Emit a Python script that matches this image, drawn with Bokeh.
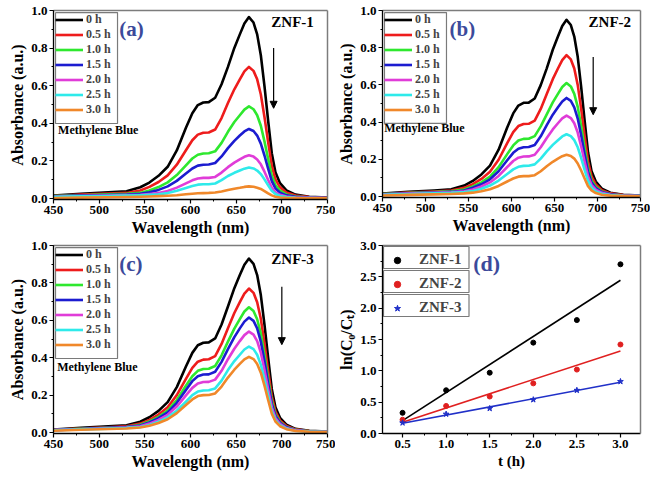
import numpy as np
from bokeh.plotting import figure
from bokeh.layouts import row, column
from bokeh.models import (Legend, LegendItem, Label, Arrow, NormalHead, LinearAxis,
                          SingleIntervalTicker, PrintfTickFormatter, Range1d)
from bokeh.embed import file_html
from bokeh.resources import INLINE

# ---------------- data ----------------
wavelength = [450, 480, 510, 530, 545, 555, 565, 575, 585, 595, 602, 608, 614,
              620, 627, 634, 641, 648, 654, 659, 664, 669, 673, 677, 681, 685,
              689, 693, 698, 705, 715, 730, 750]
time_labels = ["0 h", "0.5 h", "1.0 h", "1.5 h", "2.0 h", "2.5 h", "3.0 h"]
curve_colors = ["#000000", "#ee1c1c", "#2ee82e", "#1c1cd0", "#e03cd8", "#2eeaea", "#f0882a"]

znf1_spectra = [
    [0.016, 0.025, 0.033, 0.039, 0.060, 0.085, 0.121, 0.169, 0.256, 0.376, 0.454, 0.497, 0.511, 0.513, 0.536, 0.608, 0.700, 0.801, 0.873, 0.931, 0.965, 0.936, 0.873, 0.762, 0.598, 0.415, 0.241, 0.140, 0.082, 0.043, 0.021, 0.010, 0.005],
    [0.014, 0.021, 0.026, 0.030, 0.043, 0.062, 0.088, 0.123, 0.180, 0.257, 0.310, 0.340, 0.350, 0.351, 0.367, 0.428, 0.508, 0.581, 0.634, 0.676, 0.700, 0.679, 0.634, 0.553, 0.434, 0.301, 0.175, 0.102, 0.060, 0.032, 0.016, 0.008, 0.004],
    [0.013, 0.018, 0.022, 0.025, 0.030, 0.043, 0.061, 0.086, 0.125, 0.177, 0.213, 0.233, 0.240, 0.241, 0.251, 0.296, 0.355, 0.407, 0.443, 0.473, 0.490, 0.475, 0.443, 0.387, 0.304, 0.211, 0.123, 0.071, 0.042, 0.022, 0.011, 0.006, 0.003],
    [0.012, 0.016, 0.019, 0.021, 0.025, 0.033, 0.046, 0.065, 0.094, 0.133, 0.160, 0.175, 0.180, 0.181, 0.189, 0.224, 0.268, 0.307, 0.335, 0.357, 0.370, 0.359, 0.335, 0.292, 0.229, 0.159, 0.093, 0.054, 0.031, 0.017, 0.009, 0.005, 0.003],
    [0.010, 0.013, 0.016, 0.018, 0.020, 0.024, 0.029, 0.040, 0.058, 0.081, 0.097, 0.107, 0.110, 0.110, 0.115, 0.138, 0.167, 0.191, 0.208, 0.222, 0.230, 0.223, 0.208, 0.182, 0.143, 0.099, 0.058, 0.033, 0.020, 0.011, 0.006, 0.004, 0.003],
    [0.009, 0.012, 0.014, 0.016, 0.018, 0.020, 0.023, 0.029, 0.041, 0.056, 0.067, 0.074, 0.076, 0.076, 0.080, 0.098, 0.120, 0.137, 0.149, 0.159, 0.165, 0.160, 0.149, 0.130, 0.102, 0.071, 0.041, 0.024, 0.014, 0.008, 0.004, 0.003, 0.002],
    [0.003, 0.005, 0.007, 0.008, 0.010, 0.011, 0.013, 0.015, 0.018, 0.023, 0.026, 0.028, 0.029, 0.030, 0.032, 0.038, 0.045, 0.052, 0.057, 0.062, 0.065, 0.063, 0.058, 0.051, 0.040, 0.028, 0.017, 0.010, 0.006, 0.004, 0.003, 0.002, 0.002],
]
znf2_spectra = [
    [0.016, 0.025, 0.033, 0.039, 0.059, 0.084, 0.119, 0.166, 0.252, 0.371, 0.447, 0.489, 0.504, 0.505, 0.527, 0.599, 0.689, 0.789, 0.860, 0.917, 0.950, 0.922, 0.860, 0.751, 0.589, 0.409, 0.238, 0.138, 0.081, 0.043, 0.021, 0.010, 0.005],
    [0.014, 0.021, 0.027, 0.032, 0.047, 0.067, 0.095, 0.133, 0.198, 0.287, 0.346, 0.379, 0.390, 0.391, 0.408, 0.471, 0.551, 0.631, 0.688, 0.733, 0.760, 0.737, 0.688, 0.600, 0.471, 0.327, 0.190, 0.110, 0.065, 0.034, 0.017, 0.008, 0.004],
    [0.013, 0.019, 0.024, 0.028, 0.038, 0.054, 0.076, 0.107, 0.158, 0.228, 0.275, 0.301, 0.310, 0.311, 0.325, 0.377, 0.442, 0.506, 0.552, 0.589, 0.610, 0.592, 0.552, 0.482, 0.378, 0.262, 0.153, 0.088, 0.052, 0.027, 0.013, 0.006, 0.004],
    [0.012, 0.017, 0.022, 0.025, 0.033, 0.047, 0.066, 0.093, 0.136, 0.195, 0.235, 0.257, 0.265, 0.266, 0.277, 0.324, 0.384, 0.440, 0.480, 0.511, 0.530, 0.514, 0.480, 0.419, 0.329, 0.228, 0.133, 0.077, 0.045, 0.024, 0.012, 0.006, 0.004],
    [0.011, 0.016, 0.020, 0.023, 0.028, 0.038, 0.054, 0.076, 0.111, 0.159, 0.191, 0.209, 0.215, 0.216, 0.225, 0.265, 0.315, 0.361, 0.394, 0.420, 0.435, 0.422, 0.394, 0.344, 0.270, 0.187, 0.109, 0.063, 0.037, 0.020, 0.010, 0.005, 0.003],
    [0.010, 0.014, 0.017, 0.020, 0.024, 0.030, 0.042, 0.059, 0.086, 0.121, 0.146, 0.160, 0.165, 0.166, 0.173, 0.204, 0.243, 0.278, 0.303, 0.323, 0.335, 0.325, 0.303, 0.265, 0.208, 0.144, 0.084, 0.049, 0.028, 0.015, 0.008, 0.004, 0.003],
    [0.006, 0.009, 0.012, 0.014, 0.017, 0.021, 0.029, 0.039, 0.057, 0.081, 0.097, 0.107, 0.110, 0.110, 0.115, 0.136, 0.163, 0.187, 0.204, 0.217, 0.225, 0.218, 0.204, 0.178, 0.140, 0.097, 0.056, 0.033, 0.019, 0.010, 0.005, 0.003, 0.002],
]
znf3_spectra = [
    [0.016, 0.025, 0.033, 0.039, 0.058, 0.082, 0.116, 0.163, 0.243, 0.353, 0.426, 0.467, 0.480, 0.482, 0.503, 0.578, 0.674, 0.772, 0.842, 0.897, 0.930, 0.902, 0.842, 0.735, 0.577, 0.400, 0.233, 0.135, 0.079, 0.042, 0.020, 0.009, 0.005],
    [0.015, 0.022, 0.028, 0.033, 0.048, 0.068, 0.096, 0.135, 0.200, 0.287, 0.346, 0.379, 0.390, 0.392, 0.409, 0.474, 0.558, 0.639, 0.697, 0.743, 0.770, 0.747, 0.697, 0.608, 0.477, 0.331, 0.193, 0.112, 0.065, 0.035, 0.017, 0.008, 0.004],
    [0.014, 0.020, 0.026, 0.030, 0.042, 0.059, 0.084, 0.117, 0.174, 0.250, 0.301, 0.330, 0.340, 0.341, 0.356, 0.413, 0.486, 0.556, 0.606, 0.647, 0.670, 0.650, 0.606, 0.529, 0.415, 0.288, 0.168, 0.097, 0.057, 0.030, 0.015, 0.007, 0.004],
    [0.013, 0.019, 0.025, 0.029, 0.038, 0.054, 0.077, 0.108, 0.159, 0.228, 0.275, 0.301, 0.310, 0.311, 0.325, 0.378, 0.446, 0.510, 0.557, 0.593, 0.615, 0.597, 0.557, 0.486, 0.381, 0.264, 0.154, 0.089, 0.052, 0.028, 0.014, 0.006, 0.004],
    [0.013, 0.018, 0.023, 0.027, 0.034, 0.048, 0.068, 0.095, 0.139, 0.199, 0.239, 0.262, 0.270, 0.271, 0.283, 0.330, 0.392, 0.448, 0.489, 0.521, 0.540, 0.524, 0.489, 0.427, 0.335, 0.232, 0.135, 0.078, 0.046, 0.024, 0.012, 0.005, 0.004],
    [0.012, 0.017, 0.021, 0.025, 0.030, 0.041, 0.058, 0.081, 0.117, 0.165, 0.200, 0.219, 0.225, 0.226, 0.236, 0.278, 0.334, 0.382, 0.416, 0.444, 0.460, 0.446, 0.416, 0.363, 0.285, 0.198, 0.115, 0.067, 0.039, 0.021, 0.010, 0.005, 0.003],
    [0.010, 0.015, 0.019, 0.022, 0.027, 0.036, 0.051, 0.071, 0.104, 0.147, 0.177, 0.195, 0.200, 0.201, 0.209, 0.246, 0.294, 0.336, 0.367, 0.391, 0.405, 0.393, 0.367, 0.320, 0.251, 0.174, 0.101, 0.059, 0.034, 0.018, 0.009, 0.004, 0.003],
]

time_h = [0.5, 1.0, 1.5, 2.0, 2.5, 3.0]
ln_znf1 = [0.33, 0.69, 0.97, 1.45, 1.81, 2.70]
ln_znf2 = [0.22, 0.44, 0.59, 0.80, 1.02, 1.42]
ln_znf3 = [0.17, 0.31, 0.40, 0.54, 0.69, 0.83]
kinetic_names = ["ZNF-1", "ZNF-2", "ZNF-3"]
kinetic_colors = ["#000000", "#e02020", "#2030c8"]

FONT = "'Liberation Serif', serif"
TAG_COLOR = "#3b4a9b"
BOX_COLOR = "#7a7a7a"


def style(p, xlabel, ylabel, xint, yint, xfmt, yfmt):
    p.grid.visible = False
    p.outline_line_color = None
    p.background_fill_color = "white"
    p.border_fill_color = "white"
    p.xaxis.ticker = SingleIntervalTicker(interval=xint, num_minor_ticks=2)
    p.yaxis.ticker = SingleIntervalTicker(interval=yint, num_minor_ticks=2)
    p.xaxis.formatter = PrintfTickFormatter(format=xfmt)
    p.yaxis.formatter = PrintfTickFormatter(format=yfmt)
    p.xaxis.axis_label = xlabel
    p.yaxis.axis_label = ylabel
    for ax in (p.xaxis, p.yaxis):
        ax.axis_line_color = "black"
        ax.axis_line_width = 1.3
        ax.major_tick_line_color = "black"
        ax.minor_tick_line_color = "black"
        ax.major_tick_line_width = 1.2
        ax.major_tick_out = 4
        ax.major_tick_in = 0
        ax.minor_tick_out = 2
        ax.minor_tick_in = 0
        ax.major_label_text_font = FONT
        ax.major_label_text_font_style = "bold"
        ax.major_label_text_font_size = "13px"
        ax.major_label_text_color = "black"
        ax.major_label_standoff = 2
        ax.axis_label_text_font = FONT
        ax.axis_label_text_font_style = "bold"
        ax.axis_label_text_color = "black"
        ax.axis_label_standoff = 2
    p.xaxis.axis_label_text_font_size = "16px"
    p.yaxis.axis_label_text_font_size = "16px"
    # grey frame lines on top and right
    for side, iv in (("above", xint), ("right", yint)):
        p.add_layout(LinearAxis(ticker=SingleIntervalTicker(interval=iv, num_minor_ticks=2),
                                axis_line_color="#7c7c7c", axis_line_width=1.5,
                                major_tick_line_color=None, minor_tick_line_color=None,
                                major_tick_out=0, minor_tick_out=0,
                                major_label_standoff=0, major_label_text_alpha=0.0,
                                major_label_text_font_size="1px"), side)


def text(p, x, y, s, size, color="black", align="left"):
    p.add_layout(Label(x=x, y=y, text=s, text_font=FONT, text_font_style="bold",
                       text_font_size=size, text_color=color, text_align=align,
                       text_baseline="middle"))


def box(p, x0, x1, y0, y1):
    p.line([x0, x1, x1, x0, x0], [y0, y0, y1, y1, y0], color=BOX_COLOR, line_width=1.2)


def spectrum_panel(spectra, tag, sample, fw, fh, borders, tag_xy,
                   sample_xy, mb_xy, arrow, legbox):
    bl, br, bt, bb = borders
    p = figure(frame_width=fw, frame_height=fh, x_range=Range1d(450, 750),
               y_range=Range1d(-0.005, 1.0), output_backend="svg",
               toolbar_location=None, min_border_left=bl, min_border_right=br,
               min_border_top=bt, min_border_bottom=bb)
    items = []
    for vals, lab, col in zip(spectra, time_labels, curve_colors):
        r = p.line(wavelength, vals, line_width=2.6, color=col,
                   line_join="round")
        items.append(LegendItem(label=lab, renderers=[r]))
    box(p, *legbox)
    leg = Legend(items=items, location="top_left", margin=2, padding=3,
                 spacing=0, glyph_width=28, glyph_height=15, label_height=15,
                 label_standoff=3, label_text_font=FONT,
                 label_text_font_style="bold", label_text_font_size="12px",
                 border_line_color=None, background_fill_alpha=0.0)
    p.add_layout(leg)
    style(p, "Wavelength (nm)", "Absorbance (a.u.)", 50, 0.2, "%d", "%.1f")
    text(p, tag_xy[0], tag_xy[1], tag, "21px", TAG_COLOR)
    text(p, sample_xy[0], sample_xy[1], sample, "15px", align="right")
    text(p, mb_xy[0], mb_xy[1], "Methylene Blue", "12px")
    p.add_layout(Arrow(end=NormalHead(size=7, fill_color="black", line_color="black"),
                       x_start=arrow[0], y_start=arrow[1], x_end=arrow[0],
                       y_end=arrow[2], line_width=1.2, line_color="black"))
    return p


pa = spectrum_panel(znf1_spectra, "(a)", "ZNF-1", 274, 189, (53, 8, 8, 40),
                    (522, 0.90), (735, 0.94), (455, 0.365), (691, 0.80, 0.48),
                    (452.2, 520.1, 0.989, 0.399))
pb = spectrum_panel(znf2_spectra, "(b)", "ZNF-2", 258, 187, (38, 10, 10, 40),
                    (528, 0.90), (739, 0.94), (452, 0.366), (695, 0.75, 0.44),
                    (452.3, 524.4, 0.989, 0.393))
pc = spectrum_panel(znf3_spectra, "(c)", "ZNF-3", 274, 188, (53, 8, 6, 40),
                    (522, 0.90), (735, 0.93), (454, 0.35), (700, 0.78, 0.47),
                    (452.2, 520.1, 0.989, 0.396))

# ---------------- panel (d) ----------------
pd = figure(frame_width=258, frame_height=188, x_range=Range1d(0.27, 3.23),
            y_range=Range1d(0.0, 3.0), output_backend="svg",
            toolbar_location=None, min_border_left=38, min_border_right=10,
            min_border_top=8, min_border_bottom=38)
series = [ln_znf1, ln_znf2, ln_znf3]
markers = ["circle", "circle", "star"]
tt = np.array(time_h)
for k, (ys, col, mk, name) in enumerate(zip(series, kinetic_colors, markers, kinetic_names)):
    slope, icpt = np.polyfit(tt, np.array(ys), 1)
    pd.line([time_h[0], time_h[-1]], [slope * time_h[0] + icpt, slope * time_h[-1] + icpt],
            line_width=1.6, color=col)
    r = pd.scatter(time_h, ys, marker=mk, size=5 if mk == "circle" else 6,
                   fill_color=col, line_color=col)
    box(pd, 0.2815, 1.2624, 3.0 - (1 + 24 * k) * 0.01596, 3.0 - (23 + 24 * k) * 0.01596)
    leg = Legend(items=[LegendItem(label=name, renderers=[r])],
                 location=(1, 188 - 1 - 22 - 24 * k), padding=3, spacing=0,
                 glyph_width=28, glyph_height=16, label_height=16,
                 label_standoff=8, label_text_font=FONT,
                 label_text_font_style="bold", label_text_font_size="15px",
                 border_line_color=None, background_fill_alpha=0.0, margin=0)
    pd.add_layout(leg)
style(pd, "t (h)", "ln(C₀/Cₜ)", 0.5, 0.5, "%.1f", "%.1f")
pd.xaxis.axis_label_text_font_size = "15px"
text(pd, 1.31, 2.71, "(d)", "22px", TAG_COLOR)

layout = column(row(pa, pb), row(pc, pd))
open("out.html", "w").write(file_html(layout, INLINE))
